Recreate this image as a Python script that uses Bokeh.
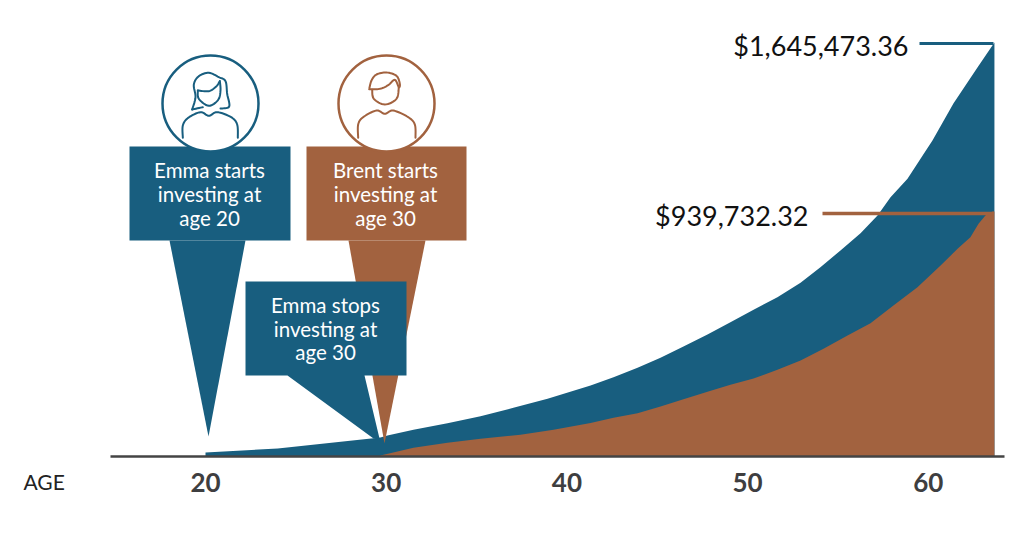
from bokeh.plotting import figure
from bokeh.models import Range1d, LinearAxis, FixedTicker
from bokeh.core.properties import value
from bokeh.embed import file_html
from bokeh.resources import INLINE

# ---- data (the artwork is not drawn strictly to scale) ----
age_ticks = [20, 30, 40, 50, 60]
emma_age = [20.0, 24.0, 29.68, 30.07, 31.51, 33.39, 35.22, 37.04, 38.93, 41.31, 42.58,
            43.91, 45.18, 46.45, 47.78, 49.05, 50.33, 51.65, 52.93, 54.03, 55.14, 56.25,
            57.19, 57.91, 58.85, 59.57, 60.23, 61.39, 62.72, 63.66]
emma_value = [15900, 31800, 75500, 83500, 106100, 132400, 160200, 193600, 229400, 282200,
              315200, 352600, 392300, 437300, 485000, 533800, 583100, 633200, 690900,
              752500, 818900, 887600, 958000, 1030700, 1103900, 1183300, 1256100,
              1403200, 1546300, 1645473]
brent_age = [29.68, 31.51, 33.39, 35.22, 37.43, 39.26, 41.31, 42.58, 43.91, 45.18, 46.45,
             47.78, 49.05, 50.33, 51.65, 52.93, 54.2, 55.53, 56.8, 58.07, 59.4, 60.68,
             61.62, 62.33, 62.78, 63.16, 63.55, 63.66]
brent_value = [4000, 34600, 54500, 70400, 86300, 106100, 133200, 153800, 172100, 198800,
               227800, 257200, 285000, 310100, 344600, 381600, 428100, 481000, 529900,
               600200, 673000, 759200, 825600, 871700, 925000, 958000, 973900, 973900]
emma_total = "$1,645,473.36"
brent_total = "$939,732.32"
emma_start = ["Emma starts", "investing at", "age 20"]
brent_start = ["Brent starts", "investing at", "age 30"]
emma_stop = ["Emma stops", "investing at", "age 30"]
axis_name = "AGE"

BLUE = "#185E7F"
BROWN = "#A2623F"
FONT = "Lato"
W, H = 1008, 522
AXIS_Y = 456


def sx(px):
    return 20 + (px - 205) / 18.07


def smooth(pts, n=8):
    """Catmull-Rom through the outline points of the small person icons."""
    P = [pts[0]] + list(pts) + [pts[-1]]
    xs, ys = [], []
    for i in range(1, len(P) - 2):
        for k in range(n):
            t = k / n
            for out, d in ((xs, 0), (ys, 1)):
                a, b, c, e = P[i - 1][d], P[i][d], P[i + 1][d], P[i + 2][d]
                out.append(0.5 * (2 * b + (c - a) * t + (2 * a - 5 * b + 4 * c - e) * t * t
                                  + (3 * b - a - 3 * c + e) * t ** 3))
    xs.append(pts[-1][0])
    ys.append(pts[-1][1])
    return xs, ys


p = figure(width=W, height=H, output_backend="svg", toolbar_location=None,
           x_range=Range1d(sx(0), sx(W)),
           y_range=Range1d((AXIS_Y - H) * 3975, AXIS_Y * 3975),
           min_border_left=0, min_border_right=0, min_border_top=0, min_border_bottom=0,
           x_axis_location=None, y_axis_location=None,
           outline_line_color=None, background_fill_color="white", border_fill_color="white")
p.grid.visible = False

# picture-pixel coordinate system for the decoration
p.extra_x_ranges["px"] = Range1d(0, W)
p.extra_y_ranges["px"] = Range1d(H, 0)
PX = dict(x_range_name="px", y_range_name="px")

axis = LinearAxis(ticker=FixedTicker(ticks=age_ticks), bounds=(sx(110), sx(1004)), fixed_location=0)
axis.axis_line_color = "#444444"
axis.axis_line_width = 2.5
axis.major_tick_line_color = None
axis.minor_tick_line_color = None
axis.major_label_text_font = FONT
axis.major_label_text_font_size = "26px"
axis.major_label_text_font_style = "bold"
axis.major_label_text_color = "#3E3E40"
axis.major_label_standoff = 10
p.add_layout(axis, "below")

# the two growth areas
p.varea(emma_age, [0] * len(emma_age), emma_value, fill_color=BLUE)
p.varea(brent_age, [0] * len(brent_age), brent_value, fill_color=BROWN)

# leaders to the totals
p.line([919, 993], [43, 43], line_color=BLUE, line_width=3, **PX)
p.line([822, 993], [213, 213], line_color=BROWN, line_width=3.5, **PX)

# callouts
p.patch([348, 425, 384], [240, 240, 443], fill_color=BROWN, line_color=None, **PX)
p.patch([306, 466, 466, 306], [146, 146, 240, 240], fill_color=BROWN, line_color=None, **PX)
p.patch([169, 245, 208], [240, 240, 436], fill_color=BLUE, line_color=None, **PX)
p.patch([129, 290, 290, 129], [146, 146, 240, 240], fill_color=BLUE, line_color=None, **PX)
p.patch([245, 406, 406, 364, 379, 373, 287, 245], [281, 281, 375, 375, 438, 438, 375, 375],
        fill_color=BLUE, line_color=None, **PX)

# portraits
p.circle([210], [103], radius=48, fill_color="white", line_color=BLUE, line_width=2.5, **PX)
p.circle([386], [103], radius=48, fill_color="white", line_color=BROWN, line_width=2.5, **PX)


def icon(paths, ox, oy, color):
    for path in paths:
        xs, ys = smooth([(ox + a / 3, oy + b / 3) for a, b in path])
        p.line(xs, ys, line_color=color, line_width=2, line_cap="round", line_join="round", **PX)


emma_icon = [
    [(52, 232), (52, 195), (68, 172), (105, 155), (130, 166), (155, 155), (197, 170), (215, 192), (217, 232)],
    [(97, 90), (100, 115), (130, 136), (158, 118), (165, 90), (163, 62)],
    [(97, 90), (130, 92), (152, 78), (163, 62)],
    [(80, 147), (90, 110), (85, 72), (100, 47), (130, 37), (160, 50), (180, 62), (185, 100), (191, 138), (165, 144)],
    [(80, 147), (112, 140)],
]
brent_icon = [
    [(50, 232), (50, 192), (65, 170), (105, 150), (130, 160), (155, 150), (200, 170), (220, 192), (222, 232)],
    [(92, 88), (97, 115), (130, 132), (165, 115), (172, 80)],
    [(83, 86), (90, 60), (105, 42), (135, 36), (165, 46), (175, 70), (172, 80), (160, 58), (140, 74), (115, 85), (83, 86)],
]
icon(emma_icon, 165, 60, BLUE)
icon(brent_icon, 341, 60, BROWN)


def caption(lines, x, ys):
    p.text([x] * 3, ys, text=lines, text_color="white", text_font=value(FONT),
           text_font_size="20.5px", text_align="center", text_baseline="middle", **PX)


caption(emma_start, 209, [169, 193, 217])
caption(brent_start, 385, [169, 193, 217])
caption(emma_stop, 325, [304, 328, 351])

p.text([908], [45], text=[emma_total], text_color="#111111", text_font=value(FONT),
       text_font_size="27px", text_align="right", text_baseline="middle", **PX)
p.text([808], [215], text=[brent_total], text_color="#111111", text_font=value(FONT),
       text_font_size="27px", text_align="right", text_baseline="middle", **PX)

p.text([23], [481], text=[axis_name], text_color="#222222", text_font=value(FONT),
       text_font_size="21px", text_align="left", text_baseline="middle", **PX)

open("out.html", "w").write(file_html(p, INLINE))
